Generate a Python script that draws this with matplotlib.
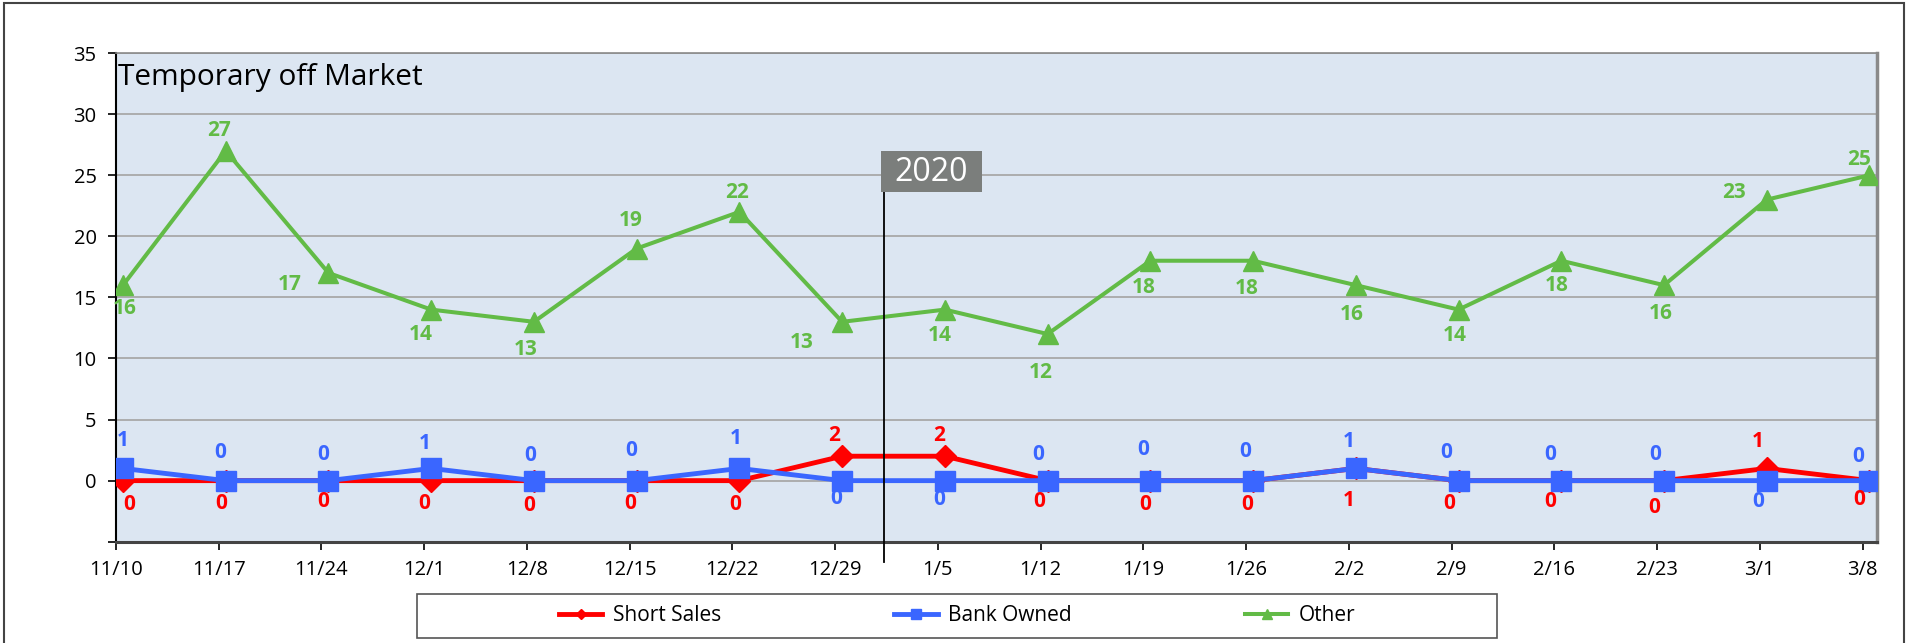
import matplotlib
matplotlib.use("Agg")
import matplotlib.pyplot as plt
from matplotlib.patches import Rectangle
import numpy as np

plt.rcParams['font.family'] = ['Open Sans', 'DejaVu Sans']

weeks = ["11/10", "11/17", "11/24", "12/1", "12/8", "12/15", "12/22", "12/29",
         "1/5", "1/12", "1/19", "1/26", "2/2", "2/9", "2/16", "2/23", "3/1", "3/8"]
short_sales = [0, 0, 0, 0, 0, 0, 0, 2, 2, 0, 0, 0, 1, 0, 0, 0, 1, 0]
bank_owned = [1, 0, 0, 1, 0, 0, 1, 0, 0, 0, 0, 0, 1, 0, 0, 0, 0, 0]
other = [16, 27, 17, 14, 13, 19, 22, 13, 14, 12, 18, 18, 16, 14, 18, 16, 23, 25]

# where each value label sits, pixels (dx, dy down) from its tick
short_off = [(13, 24), (2, 23), (2, 21), (0, 23), (2, 25), (1, 23), (3, 24), (-1, -21), (1, -21),
             (-1, 21), (2, 24), (1, 24), (0, 32), (-2, 23), (-4, 21), (-3, 27), (-2, -27), (-3, 19)]
bank_off = [(7, -28), (1, -28), (2, -26), (1, -25), (3, -25), (2, -30), (3, -30), (1, 18), (1, 19),
            (-2, -26), (0, -31), (-1, -29), (0, -27), (-5, -28), (-4, -26), (-2, -26), (-2, 21), (-4, -24)]
other_off = [(9, 23), (0, -20), (-32, 12), (-3, 25), (-1, 28), (1, -28), (5, -19), (-33, 21), (2, 26),
             (0, 38), (0, 27), (1, 28), (3, 29), (3, 26), (2, 25), (4, 28), (-26, -7), (-3, -16)]

red = "#ff0000"
blue = "#3a66ff"
green = "#62bb46"

# points sit a little right of their tick marks in the original
shift = 0.068
px_shift = 7

fig = plt.figure(figsize=(19.08, 6.43), dpi=100)
ax = fig.add_axes([0.0608, 0.1575, 0.923, 0.760])
ax.set_facecolor("#dce6f2")

x = np.arange(len(weeks))
ax.plot(x, short_sales, color=red, lw=3.5, marker="D", ms=11, zorder=3, label="Short Sales")
ax.plot(x, bank_owned, color=blue, lw=3.5, marker="s", ms=15, zorder=4, label="Bank Owned")
ax.plot(x, other, color=green, lw=2.9, marker="^", ms=15, zorder=5, label="Other")

def put_labels(vals, offs, col):
    for i, v in enumerate(vals):
        dx, dy = offs[i]
        ax.annotate(str(v), (x[i], v), xytext=(dx - px_shift, -dy), textcoords="offset pixels",
                    ha="center", va="center", color=col, fontsize=15, fontweight="bold",
                    zorder=6, annotation_clip=False)

put_labels(short_sales, short_off, red)
put_labels(bank_owned, bank_off, blue)
put_labels(other, other_off, green)

ax.set_xlim(-shift, 17.074)
ax.set_ylim(-5, 35)
ax.set_yticks(range(-5, 36, 5))
ax.set_yticklabels([""] + [str(v) for v in range(0, 36, 5)])
ax.set_xticks(x - shift)
ax.set_xticklabels(weeks)
ax.tick_params(axis="both", length=6, width=1.2, labelsize=14.5, direction="out")
ax.tick_params(axis="y", pad=8)
ax.tick_params(axis="x", pad=7)
ax.yaxis.grid(True, color="#a8a8a8", lw=1.3)
ax.set_axisbelow(True)
ax.spines["left"].set_color("black")
ax.spines["left"].set_linewidth(1.5)
ax.spines["bottom"].set_color("#444444")
ax.spines["bottom"].set_linewidth(2.2)
ax.spines["right"].set_color("#8a8a8a")
ax.spines["right"].set_linewidth(2.5)
ax.spines["top"].set_color("#8a8a8a")
ax.spines["top"].set_linewidth(1.2)

ax.annotate("Temporary off Market", (0, 1), xycoords="axes fraction", xytext=(2, -32),
            textcoords="offset pixels", va="baseline", ha="left", fontsize=21.5)

# year marker
ax.plot([7.41, 7.41], [-6.65, 23.6], color="black", lw=1.3, clip_on=False, zorder=7)
ax.add_patch(Rectangle((7.38, 23.6), 0.98, 3.37, facecolor="#7b7e7c", edgecolor="none",
                       zorder=8, clip_on=False))
ax.text(7.87, 25.25, "2020", color="white", fontsize=23, ha="center", va="center", zorder=9)

# legend with its own frame
fig.patches.append(Rectangle((0.2186, 0.0078), 0.566, 0.0684, transform=fig.transFigure,
                             fill=False, edgecolor="#555555", lw=1.2))
fig.legend(loc="center", bbox_to_anchor=(0.2186 + 0.283, 0.0078 + 0.0342), ncol=3,
           frameon=False, fontsize=15, markerscale=0.5, handlelength=2.1,
           handletextpad=0.5, columnspacing=8.3)

# outer frame of the whole chart
fig.patches.append(Rectangle((0.0022, -0.1), 0.9955, 1.0953, transform=fig.transFigure,
                             fill=False, edgecolor="#444444", lw=1.5))

fig.savefig("out.png", dpi=100)
